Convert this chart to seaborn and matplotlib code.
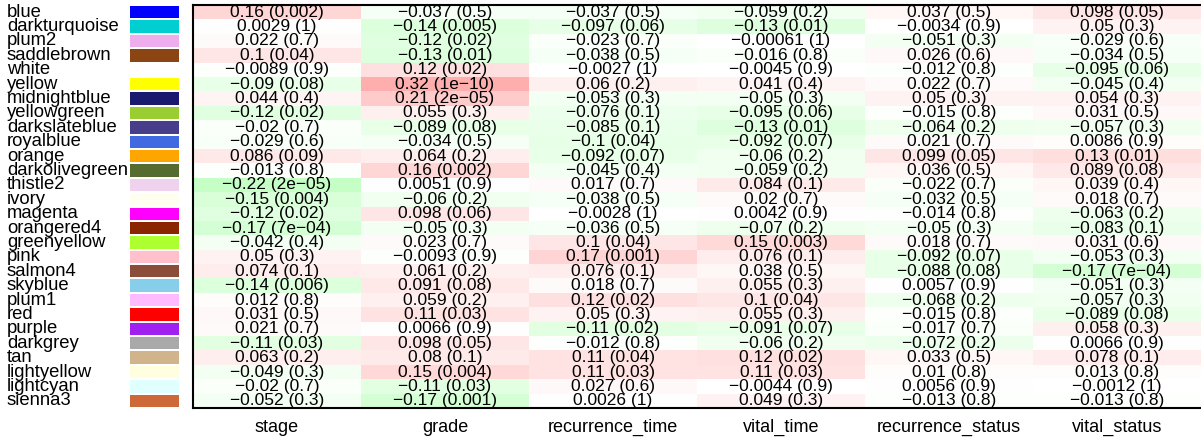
import numpy as np
import pandas as pd
import matplotlib
matplotlib.use("Agg")
import matplotlib.pyplot as plt
import seaborn as sns
from matplotlib.colors import LinearSegmentedColormap, ListedColormap

# module eigengenes (rows) and clinical traits (columns)
modules = ["blue", "darkturquoise", "plum2", "saddlebrown", "white", "yellow", "midnightblue",
           "yellowgreen", "darkslateblue", "royalblue", "orange", "darkolivegreen", "thistle2",
           "ivory", "magenta", "orangered4", "greenyellow", "pink", "salmon4", "skyblue", "plum1",
           "red", "purple", "darkgrey", "tan", "lightyellow", "lightcyan", "sienna3"]
# R colour names that matplotlib does not know, as hex
r_colors = {"plum2": "#EEAEEE", "thistle2": "#EED2EE", "orangered4": "#8B2500",
            "salmon4": "#8B4C39", "plum1": "#FFBBFF", "sienna3": "#CD6839",
            "purple": "#A020F0"}
traits = ["stage", "grade", "recurrence_time", "vital_time", "recurrence_status", "vital_status"]

# correlations
stage_r = [0.16, 0.0029, 0.022, 0.1, -0.0089, -0.09, 0.044, -0.12, -0.02, -0.029, 0.086, -0.013,
           -0.22, -0.15, -0.12, -0.17, -0.042, 0.05, 0.074, -0.14, 0.012, 0.031, 0.021, -0.11,
           0.063, -0.049, -0.02, -0.052]
grade_r = [-0.037, -0.14, -0.12, -0.13, 0.12, 0.32, 0.21, 0.055, -0.089, -0.034, 0.064, 0.16,
           0.0051, -0.06, 0.098, -0.05, 0.023, -0.0093, 0.061, 0.091, 0.059, 0.11, 0.0066, 0.098,
           0.08, 0.15, -0.11, -0.17]
rtime_r = [-0.037, -0.097, -0.023, -0.038, -0.0027, 0.06, -0.053, -0.076, -0.085, -0.1, -0.092,
           -0.045, 0.017, -0.038, -0.0028, -0.036, 0.1, 0.17, 0.076, 0.018, 0.12, 0.05, -0.11,
           -0.012, 0.11, 0.11, 0.027, 0.0026]
vtime_r = [-0.059, -0.13, -0.00061, -0.016, -0.0045, 0.041, -0.05, -0.095, -0.13, -0.092, -0.06,
           -0.059, 0.084, 0.02, 0.0042, -0.07, 0.15, 0.076, 0.038, 0.055, 0.1, 0.055, -0.091,
           -0.06, 0.12, 0.11, -0.0044, 0.049]
rstatus_r = [0.037, -0.0034, -0.051, 0.026, -0.012, 0.022, 0.05, -0.015, -0.064, 0.021, 0.099,
             0.036, -0.022, -0.032, -0.014, -0.05, 0.018, -0.092, -0.088, 0.0057, -0.068, -0.015,
             -0.017, -0.072, 0.033, 0.01, 0.0056, -0.013]
vstatus_r = [0.098, 0.05, -0.029, -0.034, -0.095, -0.045, 0.054, 0.031, -0.057, 0.0086, 0.13,
             0.089, 0.039, 0.018, -0.063, -0.083, 0.031, -0.053, -0.17, -0.051, -0.057, -0.089,
             0.058, 0.0066, 0.078, 0.013, -0.0012, -0.013]

# p-values
stage_p = ["0.002", "1", "0.7", "0.04", "0.9", "0.08", "0.4", "0.02", "0.7", "0.6", "0.09", "0.8",
           "2e-05", "0.004", "0.02", "7e-04", "0.4", "0.3", "0.1", "0.006", "0.8", "0.5", "0.7",
           "0.03", "0.2", "0.3", "0.7", "0.3"]
grade_p = ["0.5", "0.005", "0.02", "0.01", "0.02", "1e-10", "2e-05", "0.3", "0.08", "0.5", "0.2",
           "0.002", "0.9", "0.2", "0.06", "0.3", "0.7", "0.9", "0.2", "0.08", "0.2", "0.03", "0.9",
           "0.05", "0.1", "0.004", "0.03", "0.001"]
rtime_p = ["0.5", "0.06", "0.7", "0.5", "1", "0.2", "0.3", "0.1", "0.1", "0.04", "0.07", "0.4",
           "0.7", "0.5", "1", "0.5", "0.04", "0.001", "0.1", "0.7", "0.02", "0.3", "0.02", "0.8",
           "0.04", "0.03", "0.6", "1"]
vtime_p = ["0.2", "0.01", "1", "0.8", "0.9", "0.4", "0.3", "0.06", "0.01", "0.07", "0.2", "0.2",
           "0.1", "0.7", "0.9", "0.2", "0.003", "0.1", "0.5", "0.3", "0.04", "0.3", "0.07", "0.2",
           "0.02", "0.03", "0.9", "0.3"]
rstatus_p = ["0.5", "0.9", "0.3", "0.6", "0.8", "0.7", "0.3", "0.8", "0.2", "0.7", "0.05", "0.5",
             "0.7", "0.5", "0.8", "0.3", "0.7", "0.07", "0.08", "0.9", "0.2", "0.8", "0.7", "0.2",
             "0.5", "0.8", "0.9", "0.8"]
vstatus_p = ["0.05", "0.3", "0.6", "0.5", "0.06", "0.4", "0.3", "0.5", "0.3", "0.9", "0.01", "0.08",
             "0.4", "0.7", "0.2", "0.1", "0.6", "0.3", "7e-04", "0.3", "0.3", "0.08", "0.3", "0.9",
             "0.1", "0.8", "1", "0.8"]

r_df = pd.DataFrame(np.column_stack([stage_r, grade_r, rtime_r, vtime_r, rstatus_r, vstatus_r]),
                    index=modules, columns=traits)
p_df = pd.DataFrame(np.column_stack([stage_p, grade_p, rtime_p, vtime_p, rstatus_p, vstatus_p]),
                    index=modules, columns=traits)


def fmt(r, p):
    return ("{:g}".format(r) + " (" + p + ")").replace("-", "\u2212")


annot = np.array([[fmt(r_df.iat[i, j], p_df.iat[i, j]) for j in range(len(traits))]
                  for i in range(len(modules))])

cmap = LinearSegmentedColormap.from_list("gwr", ["#00ff00", "#ffffff", "#ff0000"])

W, H = 1201, 438
fig = plt.figure(figsize=(W / 100, H / 100), dpi=100)
plt.rcParams["font.family"] = ["Liberation Sans", "DejaVu Sans"]

ax = fig.add_axes([193 / W, 30 / H, 1008 / W, 403 / H])
sns.heatmap(r_df, ax=ax, cmap=cmap, vmin=-1, vmax=1, cbar=False, annot=annot, fmt="",
            annot_kws={"fontsize": 12.5, "color": "black"})
ax.set_yticks([])
ax.set_ylabel("")
ax.tick_params(axis="x", length=0, pad=8, labelsize=13)
plt.setp(ax.get_xticklabels(), rotation=0)
for side in ["left", "top", "bottom"]:
    ax.spines[side].set_visible(True)
    ax.spines[side].set_color("black")
    ax.spines[side].set_linewidth(1.5)

# module colour swatches with names
sw = fig.add_axes([129 / W, 30 / H, 51 / W, 403 / H])
idx = pd.DataFrame(np.arange(len(modules)).reshape(-1, 1), index=modules, columns=["m"])
swatch_cols = [r_colors.get(m, m) for m in modules]
sns.heatmap(idx, ax=sw, cmap=ListedColormap(swatch_cols), cbar=False, linewidths=1.2,
            linecolor="white")
sw.set_xticks([])
sw.set_xlabel("")
sw.tick_params(axis="y", length=0, pad=88, labelsize=13.3)
for t in sw.get_yticklabels():
    t.set_horizontalalignment("left")
    t.set_rotation(0)

fig.savefig("out.png", dpi=100)
